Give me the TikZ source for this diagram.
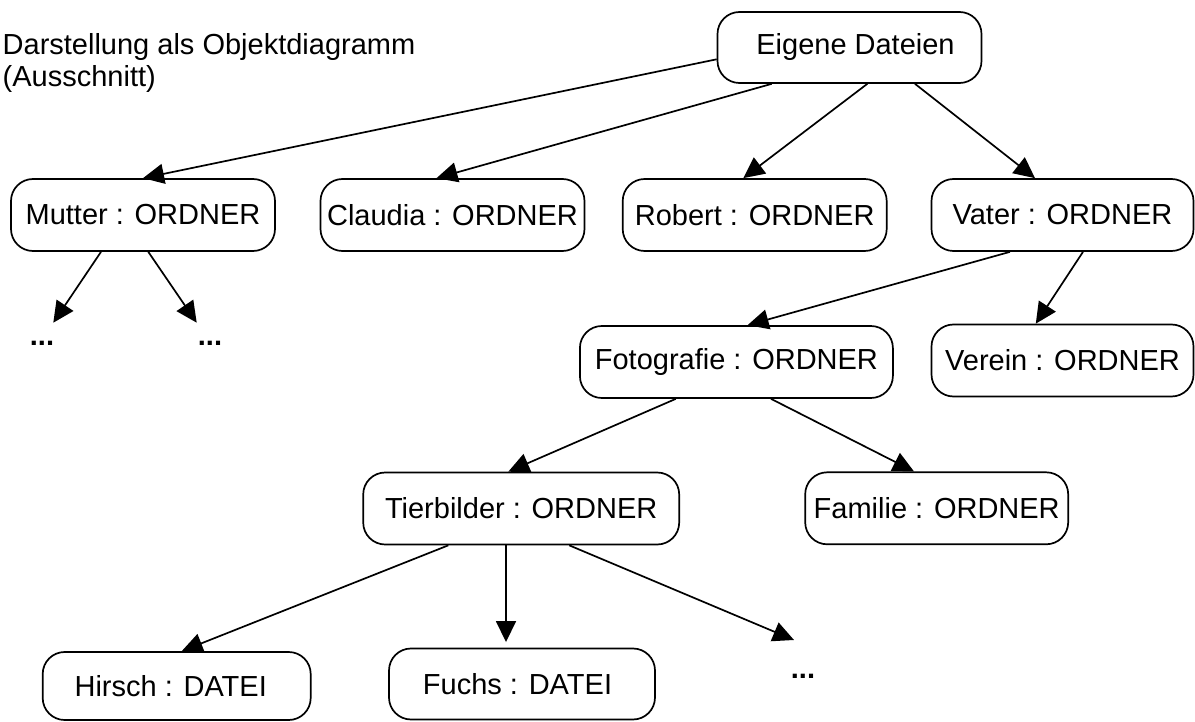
\documentclass[tikz,border=0pt]{standalone}
\usepackage{fontspec}
\setmainfont{Liberation Sans}
\usetikzlibrary{arrows.meta,calc}
\begin{document}
\begin{tikzpicture}[x=1pt,y=-1pt,
  obj/.style={draw, line width=1.7pt, rounded corners=22pt, minimum height=72pt,
              minimum width=264pt, inner sep=0pt, font=\fontsize{29}{34}\selectfont},
  link/.style={line width=1.7pt, -{Triangle[length=21pt,width=20pt]}},
  dotsnode/.style={font=\fontsize{29}{34}\selectfont\bfseries, inner sep=0pt, anchor=base},
  titletext/.style={font=\fontsize{29}{34}\selectfont, inner sep=0pt, anchor=base west}]
\useasboundingbox (0,0) rectangle (1195,722);

% title
\node[titletext] (t1) at (2.5,55) {Darstellung als Objektdiagramm};
\node[titletext] (t2) at (2.5,87) {(Ausschnitt)};

% nodes
\node[obj, minimum height=71pt] (eig) at (849.5,47.5) {\hspace*{12pt}Eigene Dateien};
\node[obj] (mut) at (143,215) {Mutter : ORDNER};
\node[obj] (cla) at (452.5,215) {Claudia : ORDNER};
\node[obj] (rob) at (754.7,215) {Robert : ORDNER};
\node[obj, minimum width=262pt] (vat) at (1062.5,215) {Vater : ORDNER};
\node[obj, minimum width=313pt] (fot) at (736.4,362) {Fotografie : ORDNER};
\node[obj, minimum width=262pt] (ver) at (1062.5,360.5) {Verein : ORDNER};
\node[obj, minimum width=316pt] (tie) at (521.2,508.5) {Tierbilder : ORDNER};
\node[obj, minimum width=263pt] (fam) at (936.7,508.3) {Familie : ORDNER};
\node[obj, minimum width=268pt, minimum height=68pt] (hir) at (176.7,686) {Hirsch : DATEI\hspace*{12pt}};
\node[obj, minimum width=266pt, minimum height=71pt] (fuc) at (522,684) {Fuchs : DATEI\hspace*{9pt}};

% dots
\node[dotsnode] (d1) at (42,345.5) {...};
\node[dotsnode] (d2) at (210,345.5) {...};
\node[dotsnode] (d3) at (803,678) {...};
\coordinate (e1) at (53.3,322.7);
\coordinate (e2) at (196.7,322.7);
\coordinate (e3) at (794,640);

% connectors
\draw[link] ($(eig.west)+(0,11.8)$) -- (mut.north);
\draw[link] ($(eig.south)+(-77.8,0)$) -- ($(cla.north)+(-16,0)$);
\draw[link] ($(eig.south)+(17.8,0)$) -- ($(rob.north)+(-11.4,0)$);
\draw[link] ($(eig.south)+(65.5,0)$) -- ($(vat.north)+(-27.5,0)$);
\draw[link] ($(mut.south)+(-42,0)$) -- (e1);
\draw[link] ($(mut.south)+(5.3,0)$) -- (e2);
\draw[link] ($(vat.south)+(-52.5,0)$) -- ($(fot.north)+(11.2,0)$);
\draw[link] ($(vat.south)+(20.5,0)$) -- ($(ver.north)+(-26.7,0)$);
\draw[link] ($(fot.south)+(-60.6,0)$) -- ($(tie.north)+(-12.9,0)$);
\draw[link] ($(fot.south)+(34.6,0)$) -- ($(fam.north)+(-22.7,0)$);
\draw[link] ($(tie.south)+(-72.9,0)$) -- ($(hir.north)+(5,0)$);
\draw[link] ($(tie.south)+(-15.2,0)$) -- ($(fuc.north)+(-16,-5.6)$);
\draw[link] ($(tie.south)+(48.1,0)$) -- (e3);
\end{tikzpicture}
\end{document}
